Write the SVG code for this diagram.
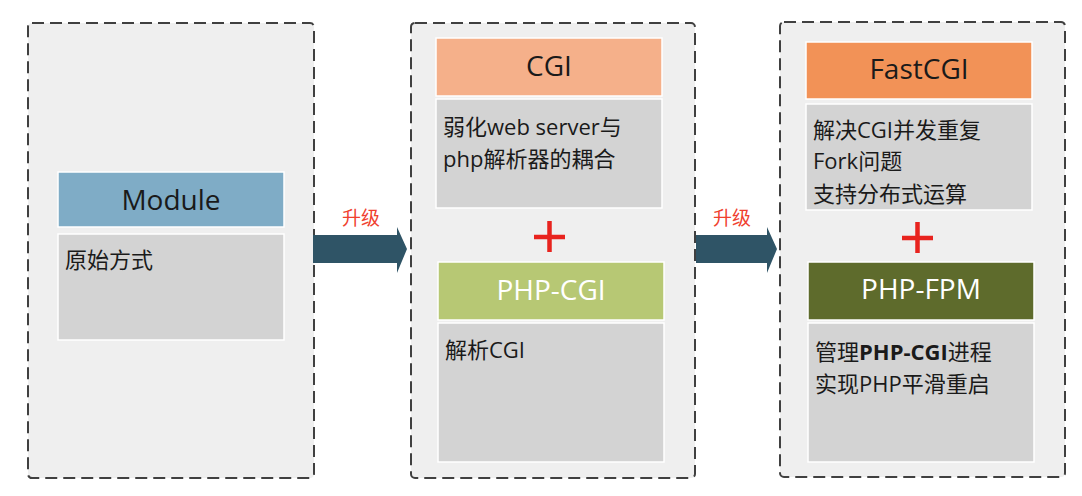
<svg xmlns="http://www.w3.org/2000/svg" width="1082" height="496" viewBox="0 0 1082 496">
<style>
.panel{fill:#efefef;stroke:#404040;stroke-width:2;stroke-dasharray:12 6}
.box{stroke:#ffffff;stroke-width:1.5}
.body{fill:#d3d3d3;stroke:#ffffff;stroke-width:1.5}
.hd{font-family:"Open Sans","Noto Sans CJK SC",sans-serif;font-size:28px;text-anchor:middle;fill:#1a1a1a}
.hdw{fill:#ffffff}
.tx{font-family:"Open Sans","Noto Sans CJK SC",sans-serif;font-size:22px;fill:#1a1a1a}
.up{font-family:"Noto Sans CJK SC",sans-serif;font-size:19px;fill:#f0402e;text-anchor:middle}
.arrow{fill:#2f5466}
.plus{stroke:#e8231e;stroke-width:4.5}
</style>
<rect class="panel" x="28" y="23" width="286" height="455" rx="4"/>
<rect class="panel" x="411" y="23" width="284" height="455" rx="4"/>
<rect class="panel" x="780" y="22" width="285" height="455" rx="4"/>
<g id="module">
<rect class="box" x="58" y="172" width="226" height="55" fill="#7facc6"/>
<text class="hd" x="171" y="210">Module</text>
<rect class="body" x="58" y="234" width="226" height="106"/>
<text class="tx" x="65" y="268">原始方式</text>
</g>
<g id="cgi">
<rect class="box" x="436" y="38" width="226" height="58" fill="#f5b08a"/>
<text class="hd" x="549" y="76">CGI</text>
<rect class="body" x="436" y="99" width="226" height="109"/>
<text class="tx" x="443" y="135">弱化web server与</text>
<text class="tx" x="443" y="167">php解析器的耦合</text>
</g>
<g id="php-cgi">
<rect class="box" x="438" y="262" width="226" height="58" fill="#b7c874"/>
<text class="hd hdw" x="551" y="300">PHP-CGI</text>
<rect class="body" x="438" y="323" width="226" height="139"/>
<text class="tx" x="445" y="358">解析CGI</text>
</g>
<g id="fastcgi">
<rect class="box" x="806" y="42" width="226" height="57" fill="#f29257"/>
<text class="hd" x="919" y="79">FastCGI</text>
<rect class="body" x="806" y="104" width="226" height="106"/>
<text class="tx" x="813" y="138">解决CGI并发重复</text>
<text class="tx" x="813" y="169">Fork问题</text>
<text class="tx" x="813" y="202">支持分布式运算</text>
</g>
<g id="php-fpm">
<rect class="box" x="808" y="262" width="226" height="58" fill="#5e6b2c"/>
<text class="hd hdw" x="921" y="299">PHP-FPM</text>
<rect class="body" x="808" y="323" width="226" height="139"/>
<text class="tx" x="815" y="360">管理<tspan font-weight="bold">PHP-CGI</tspan>进程</text>
<text class="tx" x="815" y="392">实现PHP平滑重启</text>
</g>
<g id="connectors">
<polygon class="arrow" points="313,235 397,235 397,227 407,249 397,273 397,263 313,263"/>
<text class="up" x="361" y="225">升级</text>
<polygon class="arrow" points="696,235 767,235 767,227 777,249 767,273 767,263 696,263"/>
<text class="up" x="732" y="225">升级</text>
<path class="plus" d="M534,237H565M549.5,221V252"/>
<path class="plus" d="M902,238H933M917.5,222V253"/>
</g>
</svg>
